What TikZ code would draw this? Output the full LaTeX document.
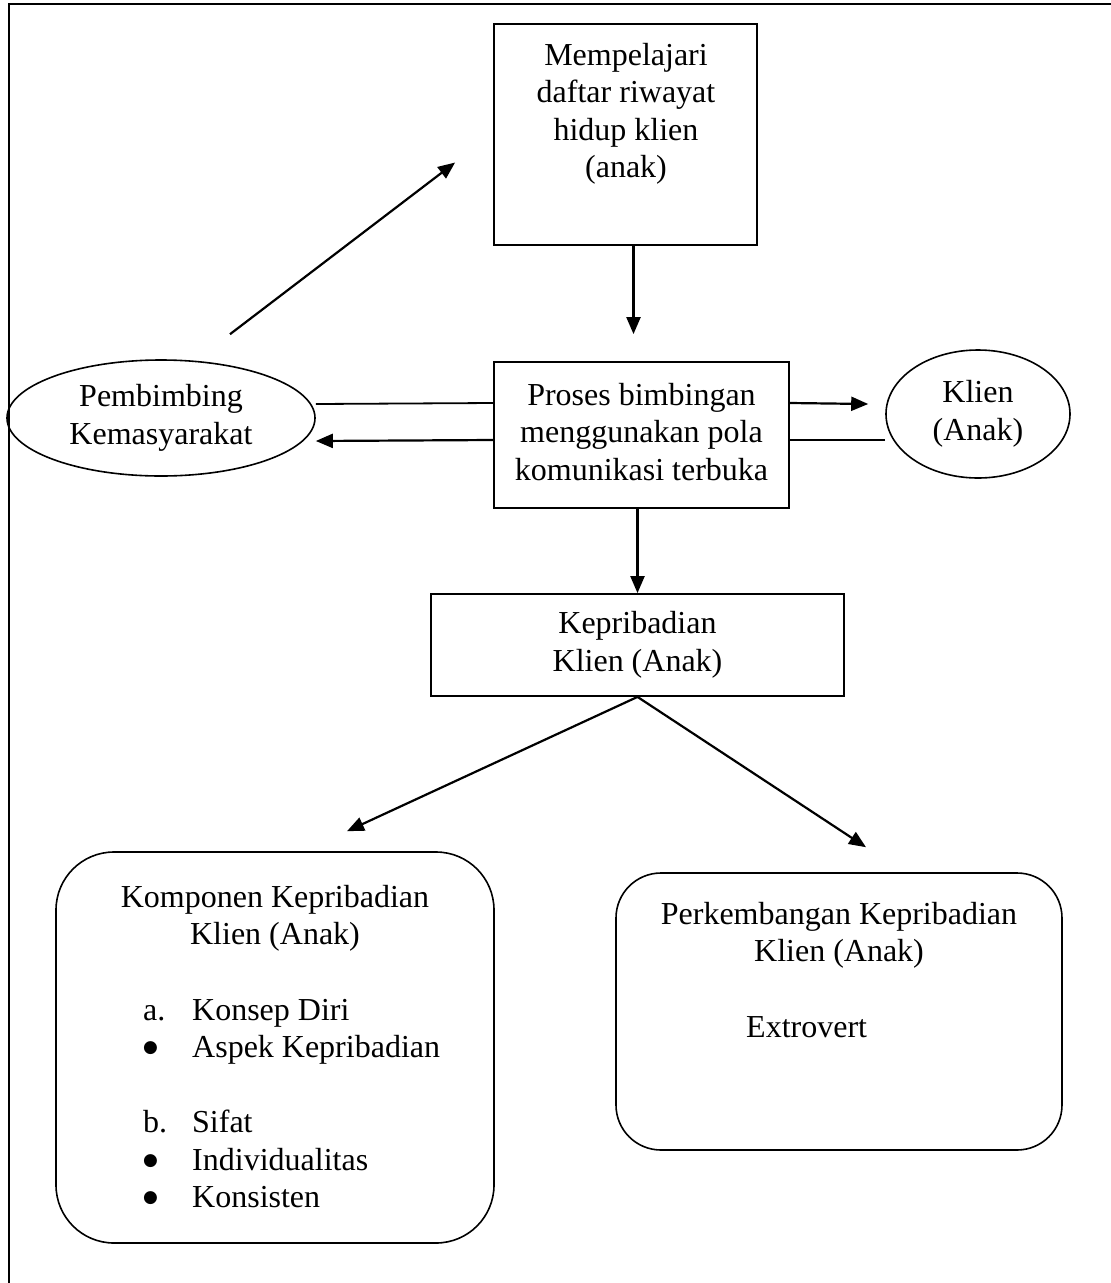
\documentclass[tikz,border=0pt]{standalone}
\usepackage{fontspec}
\setmainfont{Liberation Serif}
\newfontfamily\simbol{DejaVu Sans}
\usetikzlibrary{arrows.meta, positioning, shapes}
\newcommand{\baris}[1]{\begin{tabular}[t]{@{}c@{}}#1\end{tabular}}
\newcommand{\titik}{\raisebox{5pt}{\fontsize{17}{0}\simbol ●}}

\begin{document}
\begin{tikzpicture}[x=1pt, y=-1pt,
    font=\fontsize{32}{37.5}\selectfont,
    kotak/.style={draw, rectangle, line width=1.8pt, inner sep=0pt},
    lonjong/.style={draw, ellipse, line width=1.6pt, inner sep=0pt},
    tumpul/.style={draw, rectangle, rounded corners=#1, line width=1.6pt, inner sep=0pt},
    teks/.style={inner sep=0pt, anchor=base},
    panah/.style={line width=2.2pt, -{Triangle[length=17pt, width=14pt]}},
    garis/.style={line width=1.8pt}]
    \useasboundingbox (0,0) rectangle (1111,1283);
    \draw[line width=1.8pt] (9,1283) -- (9,4) -- (1111,4);

    \node (riwayat) [kotak, minimum width=263pt, minimum height=221pt] at (625.5,134.5) {};
    \node (riwayatteks) [teks] at (626,65) {\baris{Mempelajari\\daftar riwayat\\hidup klien\\(anak)}};

    \node (proses) [kotak, minimum width=295pt, minimum height=146pt] at (641.5,435) {\baris{Proses bimbingan\\menggunakan pola\\komunikasi terbuka}};
    \node (pembimbing) [lonjong, minimum width=308pt, minimum height=116pt] at (161,418) {\baris{Pembimbing\\Kemasyarakat}};
    \node (klien) [lonjong, minimum width=184pt, minimum height=128pt] at (978,414) {\baris{Klien\\(Anak)}};

    \node (kepribadian) [kotak, minimum width=413pt, minimum height=102pt] at (637.5,645) {\baris{Kepribadian\\Klien (Anak)}};

    \node (komponen) [tumpul=58pt, minimum width=438pt, minimum height=391pt] at (275,1047.5) {};
    \node (komponenjudul) [teks] at (275,907) {\baris{Komponen Kepribadian\\Klien (Anak)}};
    \node (komponenisi) [teks, anchor=base west] at (143,1020) {\begin{tabular}[t]{@{}p{49pt}@{}l@{}}
        a. & Konsep Diri\\
        \titik & Aspek Kepribadian\\[37.5pt]
        b. & Sifat\\
        \titik & Individualitas\\
        \titik & Konsisten
    \end{tabular}};

    \node (perkembangan) [tumpul=45pt, minimum width=446pt, minimum height=277pt] at (839,1011.5) {};
    \node (perkembanganjudul) [teks] at (839,924) {\baris{Perkembangan Kepribadian\\Klien (Anak)}};
    \node (extrovert) [teks, anchor=base west] at (746,1037) {Extrovert};

    \draw[panah] ([xshift=69pt, yshift=25pt]pembimbing.north) -- ([xshift=-38pt, yshift=-28pt]riwayat.west);
    \draw[panah, shorten >=27pt] ([xshift=8pt]riwayat.south) -- ([xshift=8pt]riwayat.south |- proses.north);

    \draw[garis] ([yshift=32pt]proses.west) -- ([yshift=14pt]pembimbing.east);
    \draw[panah] ([yshift=-5pt]proses.west) -- ([yshift=-23pt]pembimbing.east);
    \draw[panah] ([yshift=32pt]proses.east) -- ([xshift=-17pt, yshift=10pt]klien.west);
    \draw[garis] ([yshift=-26pt]klien.west) -- ([yshift=-5pt]proses.east);

    \draw[panah] (kepribadian.north |- proses.south) -- (kepribadian.north);
    \draw[panah] (kepribadian.south) -- ([xshift=72pt, yshift=20pt]komponen.north);
    \draw[panah] (kepribadian.south) -- ([xshift=27pt, yshift=25pt]perkembangan.north);
\end{tikzpicture}
\end{document}
